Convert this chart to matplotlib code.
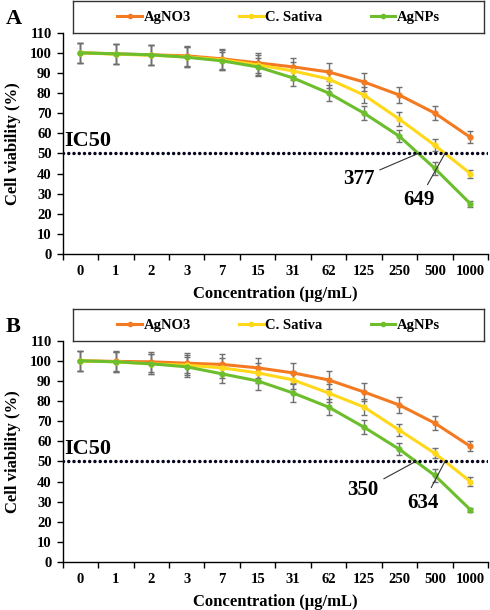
import matplotlib
matplotlib.use("Agg")
import matplotlib.pyplot as plt
import numpy as np
from matplotlib.lines import Line2D

plt.rcParams['font.family'] = ['Liberation Serif', 'DejaVu Serif']
plt.rcParams['font.weight'] = 'bold'

categories = ["0", "1", "2", "3", "7", "15", "31", "62", "125", "250", "500", "1000"]
series_names = ["AgNO3", "C. Sativa", "AgNPs"]
colors = ["#F47A22", "#FFD81A", "#6CBE2D"]

# Panel A
a_agno3 = [100, 99.5, 99, 98.5, 97, 95, 93, 90.5, 85.5, 79, 70, 58]
a_sativa = [100, 99.3, 98.8, 98, 96.5, 94, 91, 87, 79, 67, 54, 40]
a_agnps = [100, 99.5, 99, 97.8, 96, 93, 87.5, 80, 70, 58.5, 42.5, 25]
a_err_agno3 = [5, 5, 5, 5, 5, 5, 4.5, 4.5, 4.5, 4, 3.5, 3]
a_err_sativa = [5, 5, 5, 5, 5, 5, 4.5, 4.5, 4, 3.5, 3, 2]
a_err_agnps = [5, 5, 5, 5, 4.5, 4.5, 4, 4, 3.5, 3, 3, 1.5]
a_ic50 = ["377", "649"]

# Panel B
b_agno3 = [100, 99.7, 99.5, 98.8, 98.2, 96.5, 94, 90.5, 84.5, 78, 69, 57.5]
b_sativa = [100, 99.5, 98.5, 97.8, 96.5, 94, 90.5, 84, 77, 65.5, 54, 40]
b_agnps = [100, 99.5, 98.5, 97, 93.5, 90, 84, 77, 67, 56, 43, 26]
b_err_agno3 = [5, 5, 5, 5, 5, 5, 5, 4.5, 4.5, 4, 3.5, 2.5]
b_err_sativa = [5, 5, 5, 5, 5, 5, 4.5, 4.5, 4, 3, 2.5, 2]
b_err_agnps = [5, 5, 5, 5, 4.5, 4.5, 4.5, 4, 3.5, 3, 3, 1]
b_ic50 = ["350", "634"]

ic50_level = 50


def crossing(vals, level):
    v = np.asarray(vals, float)
    for i in range(len(v) - 1):
        if v[i] >= level > v[i + 1]:
            return i + (v[i] - level) / (v[i] - v[i + 1])
    return None


def panel(fig, rect, legrect, letter, data, errs, ic50_labels, text_pos):
    ax = fig.add_axes(rect)
    x = np.arange(len(categories))
    for vals, e, c in zip(data, errs, colors):
        ax.errorbar(x, vals, yerr=e, color=c, lw=2.2, marker='o', ms=3.5,
                    ecolor='#707070', elinewidth=1.0, capsize=2.5, capthick=1.0, zorder=3)
    ax.axhline(ic50_level, color='#05051f', lw=2.5, ls=(0, (0.01, 1.5)),
               dash_capstyle='round', zorder=4)
    ax.set_xlim(-0.5, len(categories) - 0.5)
    ax.set_ylim(0, 110)
    ax.set_yticks(np.arange(0, 111, 10))
    ax.set_xticks(x)
    ax.set_xticklabels(categories)
    ax.set_xticks(np.arange(-0.5, len(categories), 1), minor=True)
    ax.tick_params(axis='x', which='major', length=0, pad=8, labelsize=10.5)
    ax.tick_params(axis='x', which='minor', length=4, direction='out', width=1)
    ax.tick_params(axis='y', length=4, direction='out', width=1, labelsize=10.5, pad=4)
    for s in ['top', 'right']:
        ax.spines[s].set_visible(False)
    for s in ['left', 'bottom']:
        ax.spines[s].set_linewidth(1.0)
    for lab in ax.get_xticklabels() + ax.get_yticklabels():
        lab.set_fontweight('bold')
    ax.set_xlabel("Concentration (µg/mL)", fontsize=12, fontweight='bold', labelpad=6)
    ax.set_ylabel("Cell viability (%)", fontsize=12, fontweight='bold', labelpad=6)
    ax.text(-0.45, 51, "IC50", fontsize=16, fontweight='bold', ha='left', va='bottom')
    # IC50 annotations (AgNPs, C. Sativa)
    for vals, lab, tp in zip([data[2], data[1]], ic50_labels, text_pos):
        cx = crossing(vals, ic50_level)
        ax.annotate(lab, xy=(cx, ic50_level), xytext=tp, fontsize=15, fontweight='bold',
                    ha='center', va='center',
                    arrowprops=dict(arrowstyle='-', color='#333333', lw=0.8,
                                    shrinkA=2, shrinkB=0), zorder=5)
    fig.text(0.012, legrect[1] + legrect[3] - 0.012, letter, fontsize=16,
             fontweight='bold', ha='left', va='top')
    lax = fig.add_axes(legrect)
    lax.set_xticks([]); lax.set_yticks([])
    for s in lax.spines.values():
        s.set_linewidth(1.0)
        s.set_color('#333333')
    handles = [Line2D([0], [0], color=c, lw=2.2, marker='o', ms=3) for c in colors]
    lax.legend(handles, series_names, loc='center', ncol=3, frameon=False,
               prop=dict(weight='bold', size=10.5), handlelength=1.7,
               handletextpad=0.1, columnspacing=3.3)
    return ax


fig = plt.figure(figsize=(4.9, 6.1), dpi=100)
panel(fig, [0.128, 0.5836, 0.868, 0.3628], [0.149, 0.946, 0.839, 0.052], "A",
      [a_agno3, a_sativa, a_agnps], [a_err_agno3, a_err_sativa, a_err_agnps],
      a_ic50, [(7.85, 37.3), (9.55, 26.9)])
panel(fig, [0.128, 0.0787, 0.868, 0.3628], [0.149, 0.441, 0.839, 0.052], "B",
      [b_agno3, b_sativa, b_agnps], [b_err_agno3, b_err_sativa, b_err_agnps],
      b_ic50, [(7.97, 35.7), (9.67, 29.4)])

fig.savefig("out.png", dpi=100)
